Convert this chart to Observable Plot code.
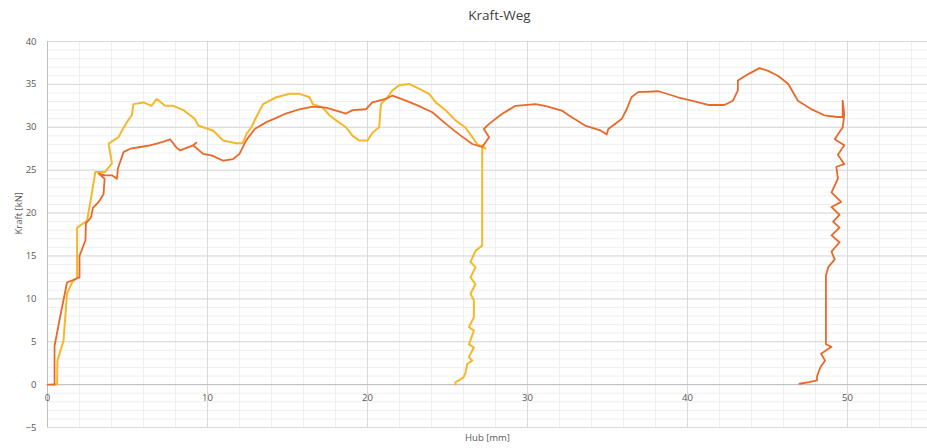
<!DOCTYPE html>
<html>
<head>
<meta charset="utf-8">
<script src="https://cdn.jsdelivr.net/npm/d3@7"></script>
<script src="https://cdn.jsdelivr.net/npm/@observablehq/plot@0.6"></script>
<style>
  body { margin: 0; background: #fff; font-family: "Open Sans", "Liberation Sans", sans-serif; }
  #title { width: 927px; height: 30px; line-height: 30px; text-align: center; padding-left: 72px; box-sizing: border-box; font-size: 13.5px; color: #404040; }
</style>
</head>
<body>
<div id="title">Kraft-Weg</div>
<div id="chart"></div>
<script>
const title = "Kraft-Weg";
const xLabel = "Hub [mm]";
const yLabel = "Kraft [kN]";
const xTicks = [0, 10, 20, 30, 40, 50];
const yTicks = [-5, 0, 5, 10, 15, 20, 25, 30, 35, 40];

const orangeX = [0, 0.2, 0.44, 0.44, 0.8, 1.22, 1.6, 2.0, 2.0, 2.37, 2.4, 2.72, 2.84, 3.2, 3.5, 3.57, 3.2, 3.6, 4.03, 4.34, 4.4, 4.75, 5.17, 5.8, 6.4, 6.83, 7.2, 7.66, 8.08, 8.29, 8.7, 9.1, 9.3, 9.1, 9.73, 10.3, 10.98, 11.6, 12.0, 12.43, 12.95, 13.68, 14.3, 14.9, 15.75, 16.58, 17.4, 18.04, 18.66, 19.07, 19.9, 20.3, 21.15, 21.56, 22.4, 23.2, 24.05, 24.9, 25.7, 26.55, 27.17, 27.6, 27.27, 27.6, 28.4, 29.25, 30.5, 31.1, 32.15, 32.57, 33.6, 34.6, 34.95, 35.05, 35.9, 36.2, 36.5, 36.9, 38.2, 39.4, 40.25, 41.3, 42.3, 42.84, 43.15, 43.15, 43.8, 44.5, 45.0, 45.65, 46.3, 46.9, 47.7, 48.55, 49.38, 49.7, 49.7, 49.8, 49.7, 49.2, 49.8, 49.4, 49.8, 49.3, 49.4, 49.0, 49.6, 49.0, 49.5, 49.1, 49.5, 49.0, 49.5, 49.0, 49.2, 48.8, 48.65, 48.65, 49.0, 48.35, 48.6, 48.3, 48.1, 48.1, 47.6, 47.0];
const orangeY = [0, 0, 0, 4.5, 8, 11.9, 12.2, 12.5, 15, 16.8, 18.8, 19.5, 20.6, 21.3, 22.2, 24, 24.6, 24.4, 24.4, 24.0, 25.2, 27.1, 27.5, 27.7, 27.9, 28.1, 28.3, 28.6, 27.6, 27.3, 27.6, 27.9, 28.2, 27.9, 26.9, 26.7, 26.1, 26.3, 26.9, 28.5, 29.8, 30.6, 31.1, 31.6, 32.1, 32.4, 32.3, 31.95, 31.6, 32, 32.1, 32.9, 33.3, 33.7, 33.1, 32.5, 31.75, 30.4, 29.2, 28.05, 27.7, 28.85, 29.8, 30.4, 31.55, 32.5, 32.7, 32.5, 31.95, 31.4, 30.2, 29.6, 29.15, 29.8, 31.0, 32.1, 33.5, 34.1, 34.2, 33.5, 33.1, 32.6, 32.6, 33.1, 34.3, 35.45, 36.2, 36.9, 36.6, 36.0, 35.05, 33.1, 32.15, 31.4, 31.2, 31.2, 33.1, 31.5, 30.0, 28.6, 27.9, 26.8, 25.7, 25.4, 24.0, 22.4, 21.3, 20.7, 19.8, 19.0, 18.3, 17.4, 16.6, 15.5, 14.6, 13.7, 12.7, 4.7, 4.4, 3.6, 2.8, 2.0, 1.0, 0.5, 0.3, 0.1];

const yellowX = [0.3, 0.6, 0.62, 1.0, 1.22, 1.53, 1.85, 1.85, 2.47, 2.68, 2.99, 3.6, 4.03, 3.82, 4.44, 4.65, 4.96, 5.27, 5.37, 6.0, 6.5, 6.83, 7.35, 7.86, 8.5, 9.2, 9.42, 10.36, 10.98, 11.8, 12.2, 12.43, 12.74, 13.05, 13.47, 14.3, 15.13, 15.75, 16.38, 16.58, 17.2, 17.62, 18.04, 18.66, 19.07, 19.5, 20.0, 20.32, 20.73, 20.84, 21.25, 21.56, 21.98, 22.6, 23.2, 23.85, 24.27, 24.9, 25.5, 26.1, 26.55, 26.85, 27.37, 27.17, 27.17, 26.75, 26.44, 26.75, 26.44, 26.75, 26.44, 26.65, 26.65, 26.34, 26.65, 26.34, 26.65, 26.34, 26.55, 26.23, 26.13, 26.0, 25.7, 25.5, 25.5];
const yellowY = [0, 0, 2.8, 5.1, 10.6, 11.9, 12.5, 18.3, 19.1, 21.3, 24.8, 24.8, 25.8, 28.1, 28.85, 29.6, 30.6, 31.4, 32.7, 32.9, 32.5, 33.3, 32.5, 32.5, 32.0, 31.0, 30.2, 29.6, 28.45, 28.15, 28.15, 29.2, 30.0, 31.2, 32.7, 33.5, 33.9, 33.9, 33.5, 32.7, 32.3, 31.4, 30.8, 30.0, 29.0, 28.45, 28.45, 29.4, 30.0, 32.7, 33.5, 34.3, 34.9, 35.05, 34.5, 33.9, 32.9, 31.95, 30.8, 30.0, 28.85, 28.05, 27.5, 27.9, 16.2, 15.6, 14.3, 13.7, 12.5, 11.7, 10.6, 9.8, 7.85, 6.7, 6.3, 4.7, 4.35, 3.2, 2.8, 2.4, 1.4, 0.85, 0.5, 0.3, 0];

const orange = orangeX.map((x, i) => ({x, y: orangeY[i]}));
const yellow = yellowX.map((x, i) => ({x, y: yellowY[i]}));

const minorX = d3.range(0, 56, 2);
const minorY = d3.range(-5, 41, 1);

const chart = Plot.plot({
  width: 927,
  height: 418,
  marginLeft: 47,
  marginRight: 0,
  marginTop: 11,
  marginBottom: 21,
  style: {fontFamily: "'Open Sans', 'Liberation Sans', sans-serif", fontSize: "9.5px", color: "#595959", background: "#fff"},
  x: {domain: [0, 55], axis: null},
  y: {domain: [-5, 40], axis: null},
  marks: [
    Plot.ruleX(minorX, {stroke: "#efefef", strokeWidth: 1}),
    Plot.ruleY(minorY, {stroke: "#efefef", strokeWidth: 1}),
    Plot.ruleX(xTicks, {stroke: "#d9d9d9", strokeWidth: 1}),
    Plot.ruleY(yTicks, {stroke: "#d9d9d9", strokeWidth: 1}),
    Plot.ruleY([0], {stroke: "#bfbfbf", strokeWidth: 1}),
    Plot.ruleX([0], {stroke: "#bfbfbf", strokeWidth: 1}),
    Plot.axisY(yTicks, {tickSize: 0, tickPadding: 11, label: null, fill: "#595959"}),
    Plot.text(xTicks, {x: d => d, y: 0, dy: 13, text: d => String(d), fill: "#595959"}),
    Plot.text([yLabel], {frameAnchor: "left", dx: -29, rotate: -90, fill: "#595959", fontSize: 9.5}),
    Plot.text([xLabel], {frameAnchor: "bottom", dy: 13, fill: "#595959", fontSize: 9.5}),
    Plot.line(yellow, {x: "x", y: "y", stroke: "#F5B82A", strokeWidth: 2, strokeLinejoin: "round"}),
    Plot.line(orange, {x: "x", y: "y", stroke: "#E8692A", strokeWidth: 1.8, strokeLinejoin: "round"})
  ]
});
document.getElementById("chart").appendChild(chart);
</script>
</body>
</html>
